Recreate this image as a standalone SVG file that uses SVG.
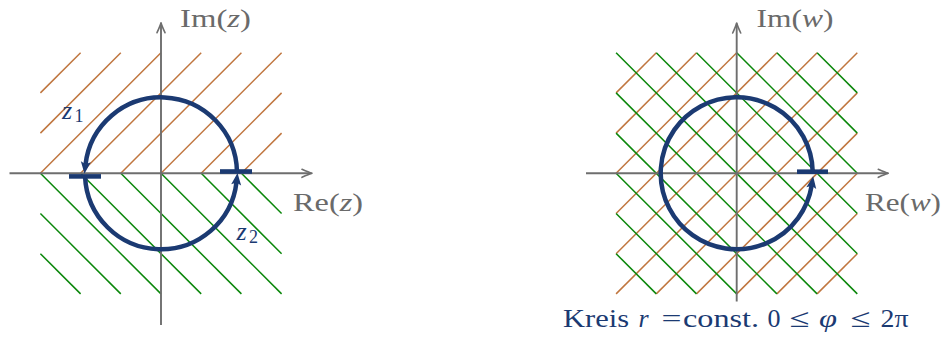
<svg xmlns="http://www.w3.org/2000/svg" width="942" height="338" viewBox="0 0 942 338">
<style>
.or{stroke:#c0763f;stroke-width:1.5;fill:none}
.gr{stroke:#0a870a;stroke-width:1.5;fill:none}
.ax{stroke:#6e6e6e;stroke-width:1.9;fill:none}
.axh{stroke:#6e6e6e;stroke-width:1.6;fill:none;stroke-linecap:round;stroke-linejoin:round}
.circ{stroke:#1b3a72;stroke-width:4.5;fill:none}
.bar{stroke:#1b3a72;stroke-width:4.6;fill:none}
.lbl{font-family:"Liberation Serif","Times New Roman",serif;font-size:26px;fill:#6a6a6a}
.nv{font-family:"Liberation Serif","Times New Roman",serif;font-size:26px;fill:#1b3a72}
.it{font-style:italic}
</style>
<defs>
<marker id="stealth" markerUnits="userSpaceOnUse" orient="auto" refX="0" refY="0" markerWidth="20" markerHeight="20" viewBox="-10 -10 20 20" overflow="visible">
<path d="M9,0 L-3,-5 L-0.5,0 L-3,5 Z" fill="#1b3a72"/>
</marker>
</defs>

<g id="left-plane">
<g id="left-hatch-upper">
<line class="or" x1="40.4" y1="92.9" x2="80.6" y2="52.7"/>
<line class="or" x1="40.4" y1="133.1" x2="120.8" y2="52.7"/>
<line class="or" x1="40.4" y1="173.3" x2="161" y2="52.7"/>
<line class="or" x1="80.6" y1="173.3" x2="201.2" y2="52.7"/>
<line class="or" x1="120.8" y1="173.3" x2="241.4" y2="52.7"/>
<line class="or" x1="161" y1="173.3" x2="281.6" y2="52.7"/>
<line class="or" x1="201.2" y1="173.3" x2="281.6" y2="92.9"/>
<line class="or" x1="241.4" y1="173.3" x2="281.6" y2="133.1"/>
</g>
<g id="left-hatch-lower">
<line class="gr" x1="40.4" y1="173.3" x2="161" y2="293.9"/>
<line class="gr" x1="80.6" y1="173.3" x2="201.2" y2="293.9"/>
<line class="gr" x1="120.8" y1="173.3" x2="241.4" y2="293.9"/>
<line class="gr" x1="161" y1="173.3" x2="281.6" y2="293.9"/>
<line class="gr" x1="201.2" y1="173.3" x2="281.6" y2="253.7"/>
<line class="gr" x1="241.4" y1="173.3" x2="281.6" y2="213.5"/>
<line class="gr" x1="40.4" y1="213.5" x2="120.8" y2="293.9"/>
<line class="gr" x1="40.4" y1="253.7" x2="80.6" y2="293.9"/>
</g>
<g id="left-axes">
<line class="ax" x1="9.5" y1="173.3" x2="311.5" y2="173.3"/>
<path class="axh" d="M302,169.3 Q309,172.5 312,173.3 Q309,174.1 302,177.3"/>
<line class="ax" x1="161" y1="325" x2="161" y2="23.2"/>
<path class="axh" d="M157,32.7 Q160.2,25.7 161,22.7 Q161.8,25.7 165,32.7"/>
<text class="lbl" x="180" y="27" textLength="71" lengthAdjust="spacingAndGlyphs">Im(<tspan class="it">z</tspan>)</text>
<text class="lbl" x="293" y="211" textLength="70" lengthAdjust="spacingAndGlyphs">Re(<tspan class="it">z</tspan>)</text>
</g>
<g id="left-contour">
<path class="circ" d="M236.98,171.7 A76,76 0 0 0 85.49,164.70" marker-end="url(#stealth)"/>
<path class="circ" d="M85.07,176.61 A76,76 0 0 0 236.51,181.90" marker-end="url(#stealth)"/>
<line class="bar" x1="69" y1="176.4" x2="101" y2="176.4"/>
<line class="bar" x1="220" y1="171.5" x2="252" y2="171.5"/>
<text class="nv it" x="62" y="118.5">z</text>
<text class="nv" x="74.5" y="121.7" style="font-size:18px">1</text>
<text class="nv it" x="236.5" y="240">z</text>
<text class="nv" x="249" y="242.7" style="font-size:18px">2</text>
</g>
</g>

<g id="right-plane">
<g id="right-hatch-orange">
<line class="or" x1="616.1" y1="92.9" x2="656.3" y2="52.7"/>
<line class="or" x1="616.1" y1="133.1" x2="696.5" y2="52.7"/>
<line class="or" x1="616.1" y1="173.3" x2="736.7" y2="52.7"/>
<line class="or" x1="616.1" y1="213.5" x2="776.9" y2="52.7"/>
<line class="or" x1="616.1" y1="253.7" x2="817.1" y2="52.7"/>
<line class="or" x1="616.1" y1="293.9" x2="857.3" y2="52.7"/>
<line class="or" x1="656.3" y1="293.9" x2="857.3" y2="92.9"/>
<line class="or" x1="696.5" y1="293.9" x2="857.3" y2="133.1"/>
<line class="or" x1="736.7" y1="293.9" x2="857.3" y2="173.3"/>
<line class="or" x1="776.9" y1="293.9" x2="857.3" y2="213.5"/>
<line class="or" x1="817.1" y1="293.9" x2="857.3" y2="253.7"/>
</g>
<g id="right-hatch-green">
<line class="gr" x1="817.1" y1="52.7" x2="857.3" y2="92.9"/>
<line class="gr" x1="776.9" y1="52.7" x2="857.3" y2="133.1"/>
<line class="gr" x1="736.7" y1="52.7" x2="857.3" y2="173.3"/>
<line class="gr" x1="696.5" y1="52.7" x2="857.3" y2="213.5"/>
<line class="gr" x1="656.3" y1="52.7" x2="857.3" y2="253.7"/>
<line class="gr" x1="616.1" y1="52.7" x2="857.3" y2="293.9"/>
<line class="gr" x1="616.1" y1="92.9" x2="817.1" y2="293.9"/>
<line class="gr" x1="616.1" y1="133.1" x2="776.9" y2="293.9"/>
<line class="gr" x1="616.1" y1="173.3" x2="736.7" y2="293.9"/>
<line class="gr" x1="616.1" y1="213.5" x2="696.5" y2="293.9"/>
<line class="gr" x1="616.1" y1="253.7" x2="656.3" y2="293.9"/>
</g>
<g id="right-axes">
<line class="ax" x1="586" y1="173.3" x2="887.8" y2="173.3"/>
<path class="axh" d="M878.3,169.3 Q885.3,172.5 888.3,173.3 Q885.3,174.1 878.3,177.3"/>
<line class="ax" x1="736.7" y1="301.5" x2="736.7" y2="23.5"/>
<path class="axh" d="M732.7,33 Q735.9,26 736.7,23 Q737.5,26 740.7,33"/>
<text class="lbl" x="756.5" y="27" textLength="77" lengthAdjust="spacingAndGlyphs">Im(<tspan class="it">w</tspan>)</text>
<text class="lbl" x="865" y="211" textLength="76" lengthAdjust="spacingAndGlyphs">Re(<tspan class="it">w</tspan>)</text>
</g>
<g id="right-contour">
<path class="circ" d="M812.67,171.05 A76,76 0 1 0 811.76,185.19" marker-end="url(#stealth)"/>
<line class="bar" x1="797" y1="171.7" x2="828" y2="171.7"/>
</g>
<g id="caption">
<text class="nv" x="563" y="327" textLength="66" lengthAdjust="spacingAndGlyphs">Kreis</text>
<text class="nv it" x="638.5" y="327">r</text>
<text class="nv" x="661.5" y="327" textLength="20" lengthAdjust="spacingAndGlyphs">=</text>
<text class="nv" x="683" y="327" textLength="76" lengthAdjust="spacingAndGlyphs">const.</text>
<text class="nv" x="767.5" y="327">0</text>
<text class="nv" x="789.5" y="327" textLength="20" lengthAdjust="spacingAndGlyphs">≤</text>
<text class="nv it" x="819" y="327" textLength="18" lengthAdjust="spacingAndGlyphs">φ</text>
<text class="nv" x="850.5" y="327" textLength="20" lengthAdjust="spacingAndGlyphs">≤</text>
<text class="nv" x="880.5" y="327" textLength="28" lengthAdjust="spacingAndGlyphs">2π</text>
</g>
</g>
</svg>
